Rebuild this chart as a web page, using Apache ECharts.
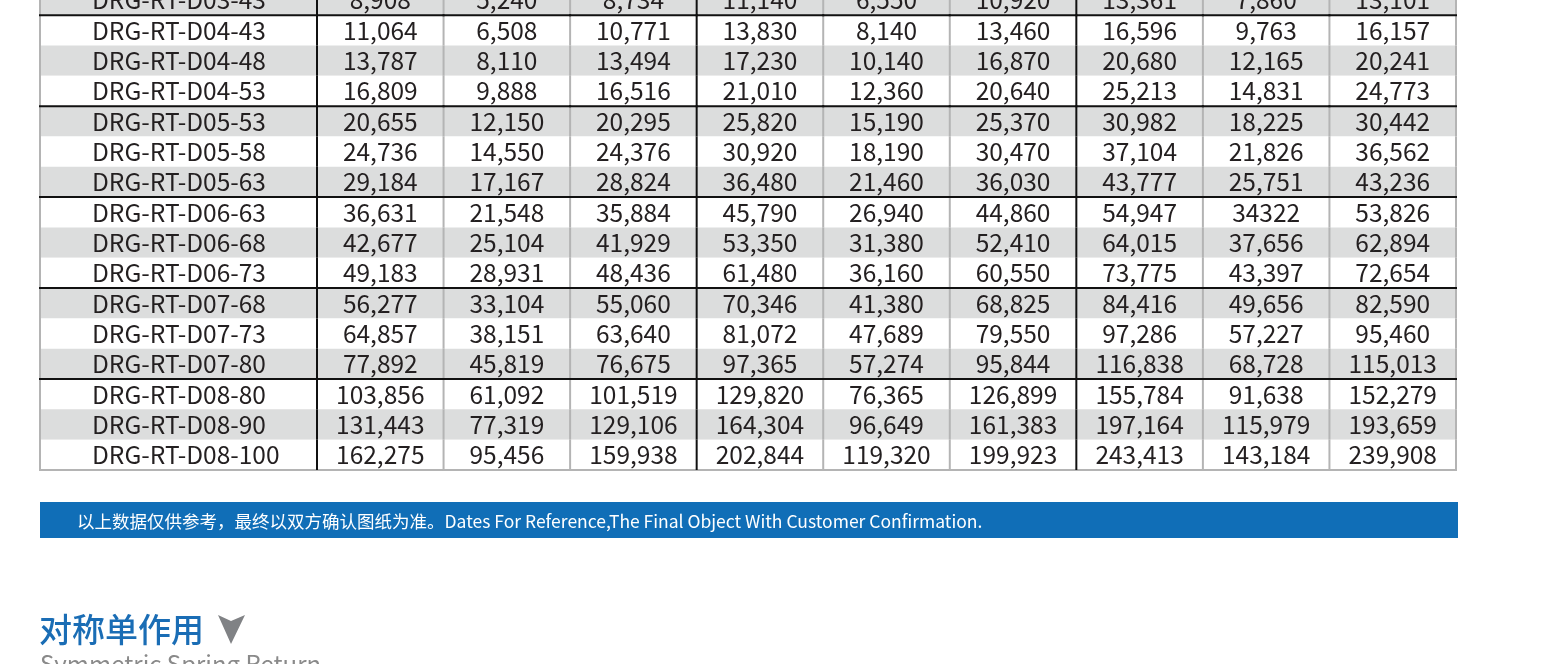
<!DOCTYPE html>
<html><head><meta charset="utf-8">
<script src="https://cdn.jsdelivr.net/npm/echarts@6/dist/echarts.min.js"></script>
<style>html,body{margin:0;padding:0;background:#fff}#c{width:1556px;height:664px}</style>
</head><body><div id="c"></div>
<script>
// ---- data ----
const models = ['DRG-RT-D03-43','DRG-RT-D04-43','DRG-RT-D04-48','DRG-RT-D04-53','DRG-RT-D05-53','DRG-RT-D05-58','DRG-RT-D05-63','DRG-RT-D06-63','DRG-RT-D06-68','DRG-RT-D06-73','DRG-RT-D07-68','DRG-RT-D07-73','DRG-RT-D07-80','DRG-RT-D08-80','DRG-RT-D08-90','DRG-RT-D08-100'];
const col1 = ['8,908','11,064','13,787','16,809','20,655','24,736','29,184','36,631','42,677','49,183','56,277','64,857','77,892','103,856','131,443','162,275'];
const col2 = ['5,240','6,508','8,110','9,888','12,150','14,550','17,167','21,548','25,104','28,931','33,104','38,151','45,819','61,092','77,319','95,456'];
const col3 = ['8,734','10,771','13,494','16,516','20,295','24,376','28,824','35,884','41,929','48,436','55,060','63,640','76,675','101,519','129,106','159,938'];
const col4 = ['11,140','13,830','17,230','21,010','25,820','30,920','36,480','45,790','53,350','61,480','70,346','81,072','97,365','129,820','164,304','202,844'];
const col5 = ['6,550','8,140','10,140','12,360','15,190','18,190','21,460','26,940','31,380','36,160','41,380','47,689','57,274','76,365','96,649','119,320'];
const col6 = ['10,920','13,460','16,870','20,640','25,370','30,470','36,030','44,860','52,410','60,550','68,825','79,550','95,844','126,899','161,383','199,923'];
const col7 = ['13,361','16,596','20,680','25,213','30,982','37,104','43,777','54,947','64,015','73,775','84,416','97,286','116,838','155,784','197,164','243,413'];
const col8 = ['7,860','9,763','12,165','14,831','18,225','21,826','25,751','34322','37,656','43,397','49,656','57,227','68,728','91,638','115,979','143,184'];
const col9 = ['13,101','16,157','20,241','24,773','30,442','36,562','43,236','53,826','62,894','72,654','82,590','95,460','115,013','152,279','193,659','239,908'];
const noteText = '以上数据仅供参考，最终以双方确认图纸为准。Dates For Reference,The Final Object With Customer Confirmation.';
const titleCN = '对称单作用';
const titleEN = 'Symmetric Spring Return';

const cols = [col1,col2,col3,col4,col5,col6,col7,col8,col9];
const FONT = '"Noto Sans CJK SC","Noto Sans",sans-serif';
const GRAY_FILL = '#dcdddd', LINE_GRAY = '#b4b4b4', LINE_BLACK = '#111111', TXT = '#231f20';
const groupOf = m => m.split('-')[2];
const isGroupEnd = r => r < models.length - 1 && groupOf(models[r]) !== groupOf(models[r+1]);
const blackRight = [2,5]; // data column index whose right edge is black

const labelCells = models.map((_, r) => [0, r]);
const dataCells = [];
for (let c = 0; c < 9; c++) for (let r = 0; r < models.length; r++) dataCells.push([c, r]);

// y is a value axis: row r occupies [r, r+1]; the first row is half cut off at the top
function cellBox(api){
  const c = api.value(0), r = api.value(1);
  const p = api.coord([c, r + 0.5]);
  const s = api.size([1, 1]);
  return {cx:p[0], cy:p[1], x:p[0]-s[0]/2, y:p[1]-s[1]/2, w:s[0], h:s[1]};
}
function makeCellRender(textFn, leftAlign){
  return function(params, api){
    const b = cellBox(api);
    const c = api.value(0), r = api.value(1);
    return {type:'group', children:[
      {type:'rect', shape:{x:b.x, y:b.y, width:b.w, height:b.h}, style:{fill: r%2===0 ? GRAY_FILL : '#ffffff'}},
      {type:'text', x: leftAlign ? b.x + 52 : b.cx, y:b.cy, style:{text:textFn(c,r), align: leftAlign ? 'left' : 'center', verticalAlign:'middle', font:'24.5px '+FONT, fill:TXT}}
    ]};
  };
}
function makeLineRender(isLabel, wantBlack){
  return function(params, api){
    const b = cellBox(api);
    const c = api.value(0), r = api.value(1);
    const ch = [];
    const add = (x1,y1,x2,y2,black) => {
      if (black === wantBlack) ch.push({type:'line', shape:{x1,y1,x2,y2}, style:{stroke: black?LINE_BLACK:LINE_GRAY, lineWidth:2}});
    };
    const rightBlack = isLabel ? true : blackRight.indexOf(c) >= 0;
    add(b.x+b.w, b.y, b.x+b.w, b.y+b.h, rightBlack);
    if (isLabel) add(b.x, b.y, b.x, b.y+b.h+1, false);
    if (isGroupEnd(r)) add(b.x-1, b.y+b.h, b.x+b.w+1, b.y+b.h, true);
    if (r === models.length-1) add(b.x-1, b.y+b.h, b.x+b.w+1, b.y+b.h, false);
    return {type:'group', children:ch};
  };
}

const hidden = {axisLine:{show:false}, axisTick:{show:false}, axisLabel:{show:false}, splitLine:{show:false}};
const yAx = gi => Object.assign({type:'value', gridIndex:gi, inverse:true, min:0.5, max:models.length}, hidden);

const chart = echarts.init(document.getElementById('c'), null, {renderer:'canvas'});
chart.setOption({
  animation:false,
  backgroundColor:'#ffffff',
  grid:[
    {left:40, top:0, width:277, height:470},
    {left:317, top:0, width:1139, height:470}
  ],
  xAxis:[
    Object.assign({type:'category', gridIndex:0, data:['model']}, hidden),
    Object.assign({type:'category', gridIndex:1, data:cols.map((_,i)=>'c'+(i+1))}, hidden)
  ],
  yAxis:[yAx(0), yAx(1)],
  series:[
    {type:'custom', xAxisIndex:0, yAxisIndex:0, z:2, data:labelCells, renderItem:makeCellRender((c,r)=>models[r], true), clip:false},
    {type:'custom', xAxisIndex:1, yAxisIndex:1, z:2, data:dataCells, renderItem:makeCellRender((c,r)=>cols[c][r], false), clip:false},
    {type:'custom', xAxisIndex:0, yAxisIndex:0, z:3, data:labelCells, renderItem:makeLineRender(true,false), clip:false},
    {type:'custom', xAxisIndex:1, yAxisIndex:1, z:3, data:dataCells, renderItem:makeLineRender(false,false), clip:false},
    {type:'custom', xAxisIndex:0, yAxisIndex:0, z:4, data:labelCells, renderItem:makeLineRender(true,true), clip:false},
    {type:'custom', xAxisIndex:1, yAxisIndex:1, z:4, data:dataCells, renderItem:makeLineRender(false,true), clip:false}
  ],
  graphic:[
    {type:'rect', left:40, top:502, shape:{width:1418, height:36}, style:{fill:'#106eb7'}, z:10},
    {type:'text', x:77, y:521, style:{text:noteText, font:'17.5px '+FONT, fill:'#ffffff', verticalAlign:'middle'}, z:11},
    {type:'text', x:39, y:629, style:{text:titleCN, font:'500 33px '+FONT, fill:'#1a6db5', verticalAlign:'middle'}, z:11},
    {type:'polygon', shape:{points:[[218,615],[231,621],[245,615],[231,644]]}, style:{fill:'#808285'}, z:11},
    {type:'text', x:40, y:652, style:{text:titleEN, font:'24px '+FONT, fill:'#8a8a8a', verticalAlign:'top'}, z:11}
  ]
});
</script></body></html>
